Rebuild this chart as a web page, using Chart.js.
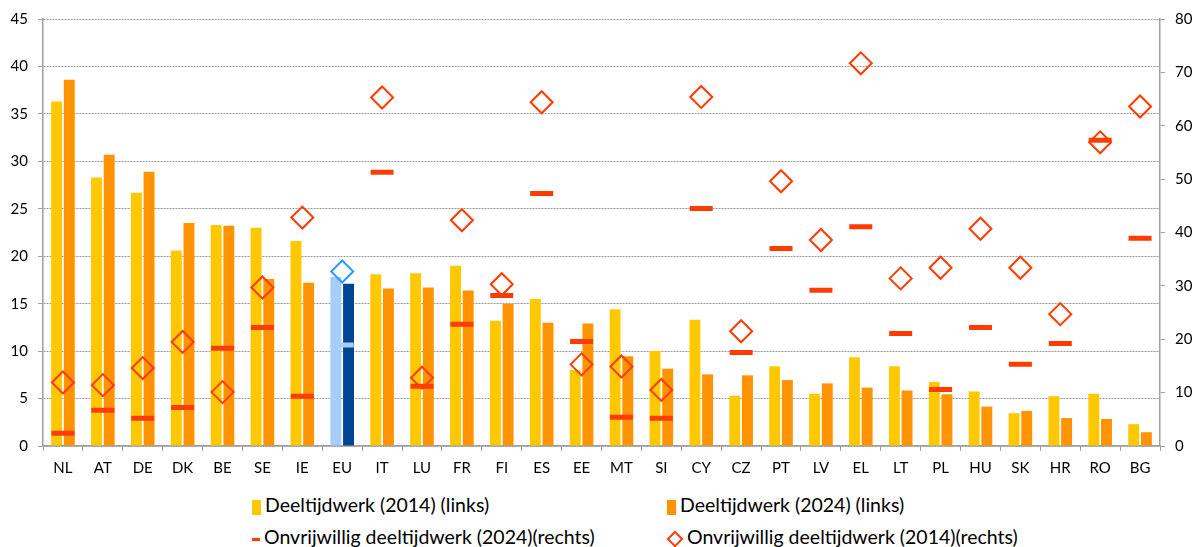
<!DOCTYPE html>
<html>
<head>
<meta charset="utf-8">
<script src="https://cdn.jsdelivr.net/npm/chart.js@4/dist/chart.umd.min.js"></script>
<style>
  body { margin: 0; background: #fff; font-family: Lato, sans-serif; }
  #wrap { position: relative; width: 1196px; height: 480px; }
  .legend { position: absolute; font-size: 19.5px; color: #000; white-space: nowrap; line-height: 22px; }
  .legend .sym { display: inline-block; vertical-align: middle; margin-right: 4px; }
  .box { width: 9px; height: 15px; }
  .dash { width: 8px; height: 3px; background: #FF3C00; }
  .dia { width: 8px; height: 8px; border: 2px solid #FF3C00; transform: rotate(45deg); margin-left: 2px; margin-right: 6px !important; }
</style>
</head>
<body>
<div id="wrap"><canvas id="chart"></canvas></div>
<div class="legend" style="left:252px; top:494px;"><span class="sym box" style="background:#FFC800"></span>Deeltijdwerk (2014) (links)</div>
<div class="legend" style="left:667px; top:494px;"><span class="sym box" style="background:#FF9300"></span>Deeltijdwerk (2024) (links)</div>
<div class="legend" style="left:252px; top:526px;"><span class="sym dash"></span>Onvrijwillig deeltijdwerk (2024)(rechts)</div>
<div class="legend" style="left:667px; top:526px;"><span class="sym dia"></span>Onvrijwillig deeltijdwerk (2014)(rechts)</div>
<script>
const categories = ['NL','AT','DE','DK','BE','SE','IE','EU','IT','LU','FR','FI','ES','EE','MT','SI','CY','CZ','PT','LV','EL','LT','PL','HU','SK','HR','RO','BG'];
const partTime2014 = [36.3,28.3,26.7,20.6,23.3,23.0,21.6,17.8,18.1,18.2,19.0,13.2,15.5,8.0,14.4,10.0,13.3,5.3,8.4,5.5,9.35,8.4,6.75,5.75,3.45,5.25,5.5,2.3];
const partTime2024 = [38.6,30.7,28.9,23.5,23.2,17.6,17.2,17.1,16.6,16.7,16.4,15.0,13.0,12.9,9.45,8.15,7.55,7.45,6.95,6.6,6.15,5.85,5.45,4.15,3.7,2.95,2.85,1.45];
const involuntary2024 = [2.4,6.7,5.2,7.2,18.3,22.2,9.3,18.9,51.3,11.2,22.8,28.2,47.3,19.6,5.4,5.2,44.5,17.5,37.0,29.2,41.1,21.1,10.6,22.2,15.3,19.2,57.3,38.9];
const involuntary2014 = [11.9,11.4,14.6,19.5,10.1,29.7,42.8,32.7,65.3,12.8,42.3,30.3,64.4,15.3,14.9,10.5,65.4,21.5,49.6,38.6,71.7,31.4,33.4,40.7,33.4,24.7,56.9,63.6];

const isEU = c => c === 'EU';
const tickFont = { family: 'Lato', size: 15 };

new Chart(document.getElementById('chart'), {
  type: 'bar',
  data: {
    labels: categories,
    datasets: [{
      label: 'Onvrijwillig deeltijdwerk (2024)(rechts)',
      type: 'line',
      data: involuntary2024,
      yAxisID: 'y2',
      showLine: false,
      pointStyle: 'line',
      pointRadius: 11.5,
      pointBorderWidth: 5,
      pointBorderColor: categories.map(c => isEU(c) ? '#A6CEFA' : '#FF3C00'),
      order: 0
    }, {
      label: 'Onvrijwillig deeltijdwerk (2014)(rechts)',
      type: 'line',
      data: involuntary2014,
      yAxisID: 'y2',
      showLine: false,
      pointStyle: 'rectRot',
      pointRadius: 11,
      pointBorderWidth: 2,
      pointBackgroundColor: 'rgba(0,0,0,0)',
      pointBorderColor: categories.map(c => isEU(c) ? '#2E9BFF' : '#FF3C00'),
      order: 1
    }, {
      label: 'Deeltijdwerk (2014) (links)',
      data: partTime2014,
      yAxisID: 'y',
      backgroundColor: categories.map(c => isEU(c) ? '#A6CEFA' : '#FFC800'),
      categoryPercentage: 0.636,
      barPercentage: 0.86,
      order: 2
    }, {
      label: 'Deeltijdwerk (2024) (links)',
      data: partTime2024,
      yAxisID: 'y',
      backgroundColor: categories.map(c => isEU(c) ? '#004494' : '#FF9300'),
      categoryPercentage: 0.636,
      barPercentage: 0.86,
      order: 2
    }]
  },
  options: {
    responsive: true,
    maintainAspectRatio: false,
    animation: false,
    events: [],
    layout: { padding: { top: 19, left: 0, right: 0, bottom: 0 } },
    plugins: { legend: { display: false }, tooltip: { enabled: false } },
    scales: {
      x: {
        offset: true,
        grid: { offset: true, drawOnChartArea: false, drawTicks: true, tickLength: 5, color: '#A0A0A0' },
        border: { color: '#A0A0A0', width: 1.5 },
        ticks: { color: '#000', font: tickFont, padding: 8, maxRotation: 0, autoSkip: false },
        afterFit: s => { s.height = 34; }
      },
      y: {
        position: 'left',
        min: 0, max: 45,
        ticks: { stepSize: 5, color: '#000', font: tickFont, padding: 10 },
        grid: { color: '#999', lineWidth: 1, tickLength: 5, tickColor: '#A0A0A0', tickBorderDash: [] },
        border: { color: '#A0A0A0', width: 1.5, dash: [2, 1] },
        afterFit: s => { s.width = 43; }
      },
      y2: {
        position: 'right',
        min: 0, max: 80,
        ticks: { stepSize: 10, color: '#000', font: tickFont, padding: 10 },
        grid: { drawOnChartArea: false, tickLength: 5, color: '#A0A0A0' },
        border: { color: '#A0A0A0', width: 1.5 },
        afterFit: s => { s.width = 36; }
      }
    }
  }
});
</script>
</body>
</html>
